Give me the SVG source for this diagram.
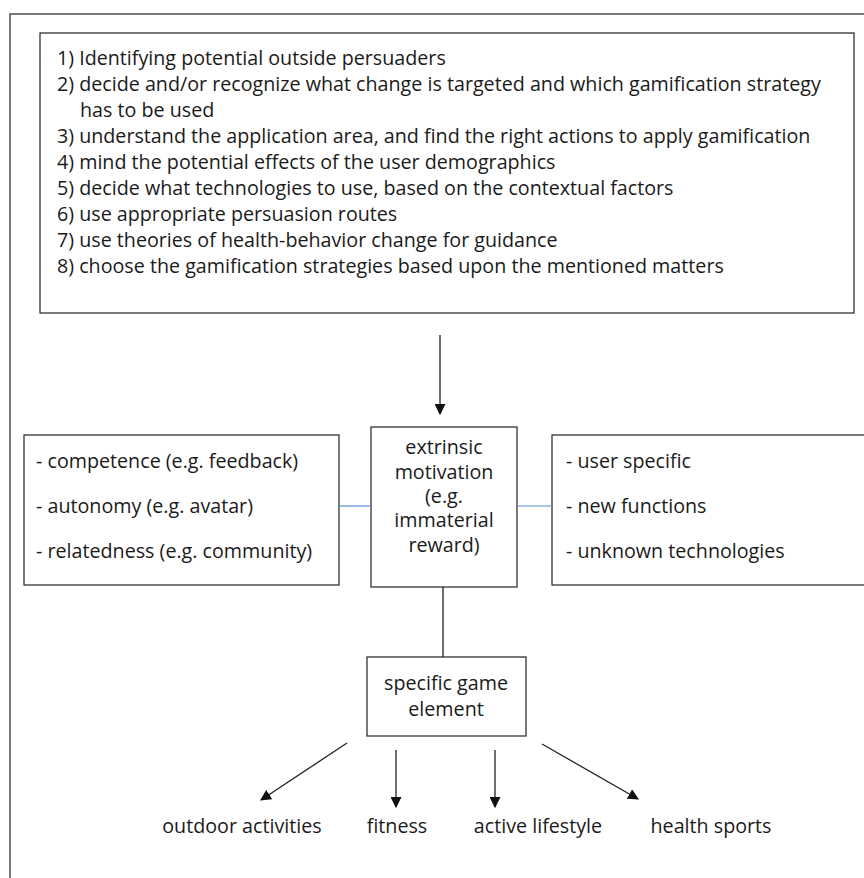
<svg xmlns="http://www.w3.org/2000/svg" width="864" height="878" viewBox="0 0 864 878">
<defs>
<style>
.box{fill:#fff;stroke:#333;stroke-width:1.3}
.t{font-family:"Open Sans","Liberation Sans",Arial,sans-serif;font-size:19.7px;fill:#1a1a1a}
.c{text-anchor:middle}
.ln{stroke:#222;stroke-width:1.3;fill:none}
.bl{stroke:#5b8bd0;stroke-width:1.2;fill:none}
</style>
<marker id="ah" viewBox="0 0 10 10" refX="9" refY="5" markerWidth="11" markerHeight="11" markerUnits="userSpaceOnUse" orient="auto">
<path d="M0,0 L10,5 L0,10 z" fill="#111"/>
</marker>
</defs>
<rect width="864" height="878" fill="#fff"/>
<rect x="10" y="14" width="900" height="900" fill="none" stroke="#333" stroke-width="1.3"/>
<g id="steps">
<rect class="box" x="40" y="33" width="814" height="280"/>
<text class="t" x="57" y="65">1) Identifying potential outside persuaders</text>
<text class="t" x="57" y="91">2) decide and/or recognize what change is targeted and which gamification strategy</text>
<text class="t" x="80" y="117">has to be used</text>
<text class="t" x="57" y="143">3) understand the application area, and find the right actions to apply gamification</text>
<text class="t" x="57" y="169">4) mind the potential effects of the user demographics</text>
<text class="t" x="57" y="195">5) decide what technologies to use, based on the contextual factors</text>
<text class="t" x="57" y="221">6) use appropriate persuasion routes</text>
<text class="t" x="57" y="247">7) use theories of health-behavior change for guidance</text>
<text class="t" x="57" y="273">8) choose the gamification strategies based upon the mentioned matters</text>
</g>
<g id="intrinsic">
<rect class="box" x="24" y="435" width="315" height="150"/>
<text class="t" x="36" y="468">- competence (e.g. feedback)</text>
<text class="t" x="36" y="513">- autonomy (e.g. avatar)</text>
<text class="t" x="36" y="558">- relatedness (e.g. community)</text>
</g>
<g id="extrinsic">
<rect class="box" x="371" y="427" width="146" height="160"/>
<text class="t c" x="444" y="454">extrinsic</text>
<text class="t c" x="444" y="479">motivation</text>
<text class="t c" x="444" y="503">(e.g.</text>
<text class="t c" x="444" y="527">immaterial</text>
<text class="t c" x="444" y="552">reward)</text>
</g>
<g id="factors">
<rect class="box" x="552" y="435" width="330" height="150"/>
<text class="t" x="566" y="468">- user specific</text>
<text class="t" x="566" y="513">- new functions</text>
<text class="t" x="566" y="558">- unknown technologies</text>
</g>
<g id="element">
<rect class="box" x="367" y="657" width="159" height="79"/>
<text class="t c" x="446" y="690">specific game</text>
<text class="t c" x="446" y="716">element</text>
</g>
<g id="outdoor"><text class="t c" x="242" y="833">outdoor activities</text></g>
<g id="fitness"><text class="t c" x="397" y="833">fitness</text></g>
<g id="lifestyle"><text class="t c" x="538" y="833">active lifestyle</text></g>
<g id="sports"><text class="t c" x="711" y="833">health sports</text></g>
<g id="connectors">
<line class="ln" x1="440" y1="335" x2="440" y2="414" marker-end="url(#ah)"/>
<line class="bl" x1="339" y1="506" x2="371" y2="506"/>
<line class="bl" x1="517" y1="506" x2="552" y2="506"/>
<line class="ln" x1="443" y1="587" x2="443" y2="657"/>
<line class="ln" x1="347" y1="743" x2="261" y2="800" marker-end="url(#ah)"/>
<line class="ln" x1="396" y1="750" x2="396" y2="807" marker-end="url(#ah)"/>
<line class="ln" x1="495" y1="750" x2="495" y2="807" marker-end="url(#ah)"/>
<line class="ln" x1="542" y1="744" x2="638" y2="799" marker-end="url(#ah)"/>
</g>
</svg>
